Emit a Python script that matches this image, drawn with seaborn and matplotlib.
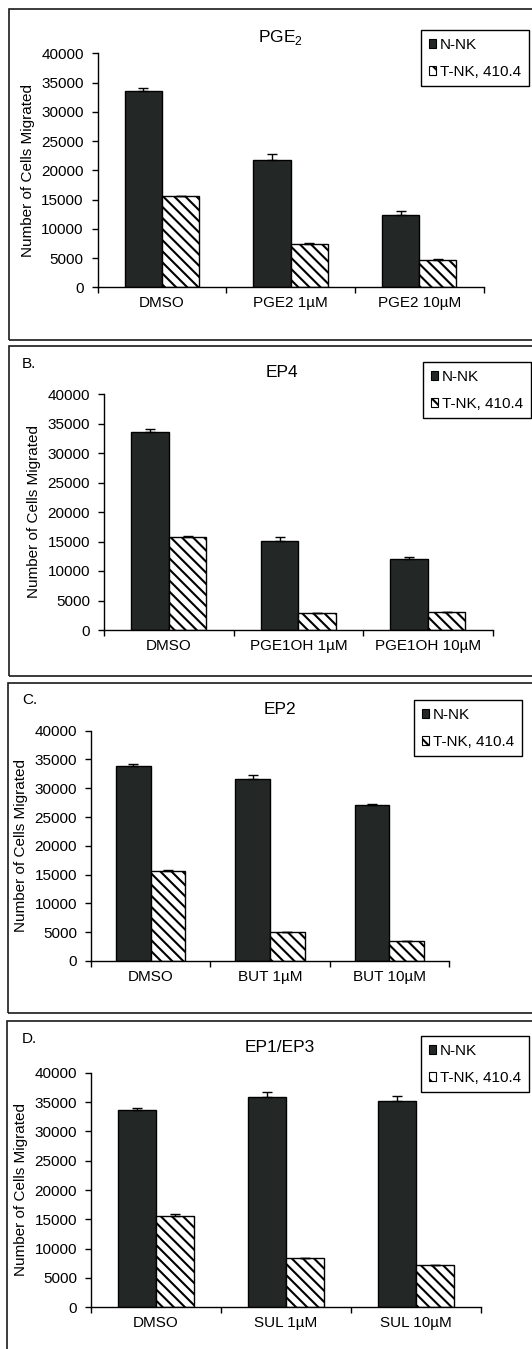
"""
Cell migration of N-NK vs T-NK under prostaglandin receptor agonists (panels A-D).
"""

import matplotlib
matplotlib.use("Agg")
import matplotlib.pyplot as plt
from matplotlib.patches import Patch, Rectangle
from matplotlib.ticker import FixedLocator
import numpy as np
import pandas as pd
import seaborn as sns

SERIES = ["N-NK", "T-NK, 410.4"]

titles = ["PGE$_\\mathregular{2}$", "EP4", "EP2", "EP1/EP3"]
letters = ["", "B.", "C.", "D."]

cats_a = ["DMSO", "PGE2 1µM", "PGE2 10µM"]
nnk_a = [33600, 21750, 12300]
nnk_err_a = [500, 1100, 700]
tnk_a = [15600, 7450, 4600]
tnk_err_a = [0, 200, 200]

cats_b = ["DMSO", "PGE1OH 1µM", "PGE1OH 10µM"]
nnk_b = [33600, 15100, 12000]
nnk_err_b = [450, 650, 450]
tnk_b = [15700, 2800, 3050]
tnk_err_b = [200, 0, 0]

cats_c = ["DMSO", "BUT 1µM", "BUT 10µM"]
nnk_c = [33800, 31600, 27050]
nnk_err_c = [400, 650, 230]
tnk_c = [15650, 5100, 3550]
tnk_err_c = [170, 0, 0]

cats_d = ["DMSO", "SUL 1µM", "SUL 10µM"]
nnk_d = [33650, 35800, 35150]
nnk_err_d = [400, 900, 850]
tnk_d = [15650, 8350, 7200]
tnk_err_d = [200, 0, 0]

yticks = list(range(0, 40001, 5000))

W, H = 532, 1349
BAR_DARK = "#232826"
HATCH = "\\\\\\"

# pixel layout of each panel: axes box, title centre, legend corner, letter, frame
LAYOUT = [
    dict(ax=(97.7, 483.5, 53.3, 287.3), title=(280, 37.7), leg=(421, 30), letter=(22, 364), frame=(9, 9, 340)),
    dict(ax=(104, 492.7, 394, 630), title=(281.6, 372.7), leg=(423, 362), letter=(22, 364), frame=(9, 346, 676)),
    dict(ax=(91, 449, 730.7, 961), title=(280, 710), leg=(414, 700), letter=(22, 700), frame=(8, 683, 1013)),
    dict(ax=(91, 480.8, 1072.7, 1307.3), title=(280, 1048), leg=(421, 1036), letter=(22, 1039), frame=(7, 1021, 1370)),
]

sns.set_style("ticks", {"axes.edgecolor": "black", "xtick.color": "black", "ytick.color": "black",
                        "text.color": "black", "axes.labelcolor": "black"})
plt.rcParams["font.family"] = ["Liberation Sans", "DejaVu Sans"]
plt.rcParams["hatch.linewidth"] = 1.5


def fx(x):
    return x / W


def fy(y):
    return 1 - y / H


def draw_panel(ax, cats, nnk, nnk_err, tnk, tnk_err):
    df = pd.DataFrame({
        "treatment": cats * 2,
        "cells": nnk + tnk,
        "group": [SERIES[0]] * len(cats) + [SERIES[1]] * len(cats),
    })
    sns.barplot(data=df, x="treatment", y="cells", hue="group", order=cats, hue_order=SERIES,
                palette=[BAR_DARK, "white"], saturation=1, width=0.58, gap=0,
                edgecolor="black", linewidth=1.0, errorbar=None, legend=False, ax=ax)

    for cont, errs, hatch in zip(ax.containers, [nnk_err, tnk_err], [None, HATCH]):
        xs = [b.get_x() + b.get_width() / 2 for b in cont]
        ys = [b.get_height() for b in cont]
        if hatch:
            for b in cont:
                b.set_hatch(hatch)
        ax.errorbar(xs, ys, yerr=[np.zeros(len(errs)), errs], fmt="none", ecolor="black",
                    elinewidth=1.0, capsize=3.3, capthick=1.0, zorder=4)

    ax.set_xlim(-0.5, len(cats) - 0.5)
    ax.set_ylim(0, 40000)
    ax.set_yticks(yticks)
    ax.set_yticklabels([str(t) for t in yticks], fontsize=11)
    ax.set_xticks(range(len(cats)))
    ax.set_xticklabels(cats, fontsize=11)
    ax.xaxis.set_minor_locator(FixedLocator(np.arange(-0.5, len(cats), 1.0)))
    ax.tick_params(axis="x", which="major", length=0, pad=6.5)
    ax.tick_params(axis="x", which="minor", length=4, width=1.0, direction="out")
    ax.tick_params(axis="y", length=4, width=1.0, direction="out", pad=6)
    ax.set_xlabel("")
    ax.set_ylabel("")
    sns.despine(ax=ax)
    for side in ["left", "bottom"]:
        ax.spines[side].set_linewidth(1.0)


panels = [
    (cats_a, nnk_a, nnk_err_a, tnk_a, tnk_err_a),
    (cats_b, nnk_b, nnk_err_b, tnk_b, tnk_err_b),
    (cats_c, nnk_c, nnk_err_c, tnk_c, tnk_err_c),
    (cats_d, nnk_d, nnk_err_d, tnk_d, tnk_err_d),
]

fig = plt.figure(figsize=(W / 100, H / 100), dpi=100)

for data, title, letter, lay in zip(panels, titles, letters, LAYOUT):
    left, right, top, bottom = lay["ax"]
    ax = fig.add_axes([fx(left), fy(bottom), (right - left) / W, (bottom - top) / H])
    draw_panel(ax, *data)

    fig.text(fx(left - 69.5), fy((top + bottom) / 2), "Number of Cells Migrated",
             rotation=90, ha="center", va="center", fontsize=11)
    fig.text(fx(lay["title"][0]), fy(lay["title"][1]), title, ha="center", va="center", fontsize=12.5)
    if letter:
        fig.text(fx(lay["letter"][0]), fy(lay["letter"][1]), letter, ha="left", va="center", fontsize=11)

    handles = [
        Patch(facecolor=BAR_DARK, edgecolor="black", linewidth=0.8),
        Patch(facecolor="white", edgecolor="black", linewidth=0.8, hatch="\\\\"),
    ]
    leg = ax.legend(handles, SERIES, loc="upper left", bbox_to_anchor=(fx(lay["leg"][0]), fy(lay["leg"][1])),
                    bbox_transform=fig.transFigure, borderaxespad=0, frameon=True, fancybox=False,
                    edgecolor="black", framealpha=1, fontsize=11, handlelength=0.5, handleheight=0.5,
                    handletextpad=0.25, borderpad=0.5, labelspacing=0.85)
    leg.get_frame().set_linewidth(1.0)

    fl, ft, fb = lay["frame"]
    fig.add_artist(Rectangle((fx(fl), fy(fb)), fx(560 - fl), (fb - ft) / H, transform=fig.transFigure,
                             fill=False, edgecolor="#1a1a1a", linewidth=1.2))

fig.savefig("out.png", dpi=100)
